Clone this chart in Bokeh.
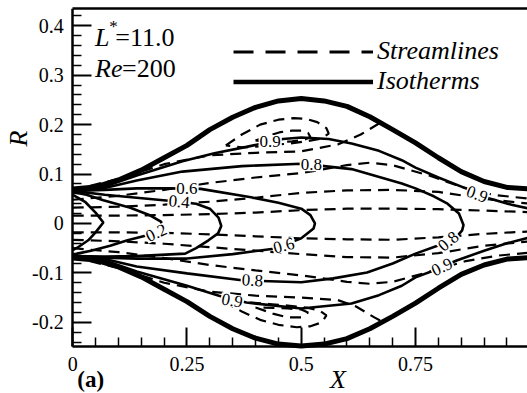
from bokeh.plotting import figure
from bokeh.models import FixedTicker, CustomJSTickFormatter, Label, Legend, LegendItem, Range1d, LinearAxis
from bokeh.core.properties import value
from bokeh.embed import file_html
from bokeh.resources import INLINE

NAN = float("nan")

# ---------------- data (X, R) ----------------
wall_x = [0, 0.05, 0.1, 0.15, 0.2, 0.25, 0.3, 0.35, 0.4, 0.45, 0.5,
          0.55, 0.6, 0.65, 0.7, 0.75, 0.8, 0.85, 0.9, 0.95, 1.0]
wall_top_r = [0.07, 0.074, 0.088, 0.108, 0.133, 0.158, 0.19, 0.215, 0.235, 0.248, 0.253,
              0.248, 0.237, 0.216, 0.19, 0.163, 0.133, 0.105, 0.085, 0.073, 0.07]
wall_bot_r = [-0.07, -0.074, -0.088, -0.108, -0.133, -0.158, -0.188, -0.213, -0.232, -0.244, -0.248,
              -0.244, -0.233, -0.213, -0.188, -0.161, -0.131, -0.103, -0.084, -0.072, -0.069]

# isotherms
iso09_top_x = [0.0, 0.07, 0.14, 0.24, 0.31, 0.38, 0.46, 0.5, 0.56, 0.61, 0.67, 0.72, 0.75, 0.8, 0.86, 0.91, 0.96, 1.0]
iso09_top_r = [0.066, 0.075, 0.097, 0.126, 0.142, 0.155, 0.171, 0.174, 0.171, 0.162, 0.147, 0.128, 0.113, 0.093, 0.071, 0.051, 0.038, 0.03]
iso09_bot_x = [0.0, 0.07, 0.14, 0.25, 0.32, 0.38, 0.5, 0.61, 0.67, 0.72, 0.75, 0.79, 0.84, 0.9, 0.95, 1.0]
iso09_bot_r = [-0.066, -0.075, -0.097, -0.126, -0.146, -0.16, -0.172, -0.162, -0.145, -0.126, -0.109, -0.095, -0.075, -0.055, -0.04, -0.028]
iso08_x = [0.0, 0.07, 0.14, 0.24, 0.37, 0.5, 0.55, 0.61, 0.72, 0.75, 0.79, 0.82, 0.845, 0.855, 0.852, 0.837,
           0.804, 0.75, 0.7, 0.644, 0.57, 0.5, 0.37, 0.25, 0.14, 0.07, 0.0]
iso08_r = [0.066, 0.072, 0.087, 0.105, 0.116, 0.121, 0.116, 0.11, 0.081, 0.071, 0.055, 0.04, 0.02, -0.003, -0.014, -0.03,
           -0.043, -0.061, -0.081, -0.099, -0.111, -0.119, -0.115, -0.101, -0.087, -0.072, -0.066]
iso06_x = [0.0, 0.07, 0.14, 0.21, 0.28, 0.39, 0.45, 0.5, 0.52, 0.53, 0.527, 0.5, 0.46, 0.44, 0.35, 0.25, 0.14, 0.07, 0.0]
iso06_r = [0.066, 0.068, 0.071, 0.071, 0.07, 0.053, 0.042, 0.03, 0.017, 0.0, -0.01, -0.03, -0.044, -0.051, -0.062, -0.071, -0.071, -0.069, -0.066]
iso04_x = [0.0, 0.07, 0.14, 0.21, 0.27, 0.3, 0.319, 0.325, 0.318, 0.297, 0.27, 0.246, 0.14, 0.07, 0.0]
iso04_r = [0.066, 0.058, 0.052, 0.046, 0.04, 0.03, 0.012, -0.005, -0.02, -0.034, -0.05, -0.061, -0.066, -0.067, -0.066]
iso02_x = [0.0, 0.03, 0.067, 0.126, 0.17, 0.193, 0.197, 0.185, 0.163, 0.12, 0.082, 0.04, 0.01, 0.0]
iso02_r = [0.064, 0.058, 0.047, 0.032, 0.016, 0.004, -0.006, -0.02, -0.024, -0.034, -0.045, -0.055, -0.061, -0.064]
iso01_x = [0.0, 0.01, 0.028, 0.05, 0.067, 0.05, 0.034, 0.01, 0.0]
iso01_r = [0.058, 0.053, 0.043, 0.022, 0.002, -0.018, -0.034, -0.049, -0.054]

# streamlines
su1_x = [0, 0.1, 0.2, 0.3, 0.4, 0.5, 0.6, 0.7, 0.8, 0.9, 1.0]
su1_r = [0.016, 0.016, 0.017, 0.019, 0.022, 0.027, 0.03, 0.03, 0.029, 0.026, 0.023]
su2_x = [0, 0.1, 0.2, 0.3, 0.4, 0.5, 0.6, 0.7, 0.8, 0.9, 1.0]
su2_r = [0.032, 0.034, 0.038, 0.044, 0.052, 0.062, 0.067, 0.068, 0.064, 0.05, 0.04]
su3_x = [0, 0.1, 0.2, 0.3, 0.4, 0.5, 0.6, 0.65, 0.7, 0.78, 0.85, 0.92, 1.0]
su3_r = [0.048, 0.056, 0.068, 0.082, 0.093, 0.102, 0.118, 0.123, 0.118, 0.097, 0.074, 0.058, 0.05]
su4_x = [0, 0.1, 0.2, 0.3, 0.4, 0.5, 0.58, 0.63, 0.675]
su4_r = [0.068, 0.09, 0.12, 0.138, 0.143, 0.146, 0.16, 0.18, 0.205]
vu1_x = [0.335, 0.37, 0.41, 0.45, 0.483, 0.51, 0.535, 0.555, 0.56, 0.545, 0.51, 0.476, 0.44, 0.41, 0.37, 0.335]
vu1_r = [0.158, 0.18, 0.2, 0.21, 0.213, 0.212, 0.205, 0.193, 0.182, 0.172, 0.166, 0.162, 0.159, 0.156, 0.154, 0.158]
vu2_x = [0.4, 0.43, 0.455, 0.48, 0.5, 0.515, 0.52, 0.505, 0.48, 0.45, 0.42, 0.4]
vu2_r = [0.168, 0.178, 0.185, 0.188, 0.188, 0.183, 0.175, 0.169, 0.166, 0.165, 0.165, 0.168]
sl1_x = [0, 0.1, 0.2, 0.3, 0.4, 0.5, 0.6, 0.7, 0.8, 0.9, 1.0]
sl1_r = [-0.018, -0.018, -0.019, -0.022, -0.026, -0.03, -0.032, -0.033, -0.028, -0.021, -0.016]
sl2_x = [0, 0.1, 0.2, 0.3, 0.4, 0.5, 0.6, 0.7, 0.8, 0.9, 1.0]
sl2_r = [-0.033, -0.036, -0.041, -0.048, -0.055, -0.062, -0.068, -0.069, -0.06, -0.045, -0.036]
sl3_x = [0, 0.1, 0.2, 0.3, 0.4, 0.5, 0.6, 0.65, 0.7, 0.78, 0.86, 0.93, 1.0]
sl3_r = [-0.05, -0.058, -0.07, -0.084, -0.095, -0.105, -0.118, -0.122, -0.118, -0.098, -0.076, -0.065, -0.059]
sl4_x = [0, 0.1, 0.2, 0.3, 0.4, 0.5, 0.58, 0.62, 0.66, 0.68]
sl4_r = [-0.068, -0.09, -0.12, -0.138, -0.146, -0.15, -0.155, -0.168, -0.19, -0.2]
vl1_x = [0.33, 0.37, 0.41, 0.45, 0.49, 0.52, 0.545, 0.555, 0.54, 0.51, 0.47, 0.43, 0.39, 0.35, 0.33]
vl1_r = [-0.158, -0.178, -0.195, -0.205, -0.21, -0.208, -0.2, -0.186, -0.176, -0.17, -0.166, -0.163, -0.16, -0.157, -0.158]
vl2_x = [0.4, 0.44, 0.47, 0.5, 0.515, 0.5, 0.47, 0.44, 0.4]
vl2_r = [-0.17, -0.183, -0.19, -0.19, -0.18, -0.174, -0.172, -0.171, -0.17]

# contour labels
lab_text = ["0.9", "0.8", "0.6", "0.4", "0.2", "0.6", "0.8", "0.9", "0.8", "0.9", "0.9"]
lab_x = [0.432, 0.522, 0.25, 0.233, 0.183, 0.462, 0.393, 0.349, 0.822, 0.808, 0.885]
lab_r = [0.166, 0.119, 0.071, 0.044, -0.019, -0.045, -0.115, -0.156, -0.036, -0.088, 0.059]
lab_ang = [0, 0, 0, -5, 25, 15, -3, -10, 40, 25, -20]

x_ticks = [0, 0.25, 0.5, 0.75]
x_minor = [0.05, 0.1, 0.15, 0.2, 0.3, 0.35, 0.4, 0.45, 0.55, 0.6, 0.65, 0.7, 0.8, 0.85, 0.9, 0.95]
y_ticks = [-0.2, -0.1, 0, 0.1, 0.2, 0.3, 0.4]
y_minor = [-0.24, -0.22, -0.18, -0.16, -0.14, -0.12, -0.08, -0.06, -0.04, -0.02, 0.02, 0.04, 0.06, 0.08,
           0.12, 0.14, 0.16, 0.18, 0.22, 0.24, 0.26, 0.28, 0.32, 0.34, 0.36, 0.38, 0.42]

legend_labels = ["Streamlines", "Isotherms"]

# plot box limits; the frame also covers the margins so that all texts are drawn inside it
X_MIN, X_MAX = 0.0, 0.995
R_MIN, R_MAX = -0.249, 0.435
X_CANVAS_MIN = -0.158
R_CANVAS_MIN = -0.344

SERIF = "Liberation Serif"
NBSP = "\u00a0"
p = figure(width=527, height=393, output_backend="svg", toolbar_location=None,
           x_range=Range1d(X_CANVAS_MIN, X_MAX), y_range=Range1d(R_CANVAS_MIN, R_MAX),
           min_border_left=0, min_border_right=0, min_border_top=8, min_border_bottom=0)
p.grid.visible = False
p.outline_line_color = None
p.background_fill_color = "white"
p.border_fill_color = "white"

fmt = CustomJSTickFormatter(code="if (Math.abs(tick) < 1e-9) return '0'; return (Math.round(tick*100)/100).toString();")
for ax, t, m in ((p.xaxis[0], x_ticks, x_minor), (p.yaxis[0], y_ticks, y_minor)):
    ax.ticker = FixedTicker(ticks=t, minor_ticks=m)
    ax.formatter = fmt
    ax.axis_line_width = 2.5
    ax.major_tick_in = 19
    ax.major_tick_out = 0
    ax.minor_tick_in = 9
    ax.minor_tick_out = 0
    ax.major_tick_line_width = 2
    ax.minor_tick_line_width = 1.5
    ax.major_label_text_font = SERIF
    ax.major_label_text_font_size = "20px"
    ax.major_label_text_color = "black"
p.xaxis[0].fixed_location = R_MIN
p.xaxis[0].bounds = (X_MIN, X_MAX)
p.xaxis[0].major_label_standoff = 10
p.yaxis[0].fixed_location = X_MIN
p.yaxis[0].bounds = (R_MIN, R_MAX)
p.yaxis[0].major_label_standoff = 9
p.yaxis[0].axis_label = NBSP * 12 + "R"
p.yaxis[0].axis_label_text_font = SERIF
p.yaxis[0].axis_label_text_font_style = "italic"
p.yaxis[0].axis_label_text_font_size = "26px"
p.yaxis[0].axis_label_text_color = "black"
p.yaxis[0].axis_label_standoff = -4

# top edge of the box
top_axis = LinearAxis(ticker=FixedTicker(ticks=[]), bounds=(X_MIN, X_MAX), axis_line_width=2.5,
                      major_tick_in=0, major_tick_out=0, minor_tick_in=0, minor_tick_out=0,
                      major_label_standoff=0, major_label_text_font_size="0px")
p.add_layout(top_axis, "above")

DASH = "11 7"
for xs, rs in ((su1_x, su1_r), (su2_x, su2_r), (su3_x, su3_r), (su4_x, su4_r), (vu1_x, vu1_r), (vu2_x, vu2_r),
               (sl1_x, sl1_r), (sl2_x, sl2_r), (sl3_x, sl3_r), (sl4_x, sl4_r), (vl1_x, vl1_r), (vl2_x, vl2_r)):
    p.line(xs, rs, line_color="black", line_width=2.2, line_dash=DASH)

for xs, rs in ((iso09_top_x, iso09_top_r), (iso09_bot_x, iso09_bot_r), (iso08_x, iso08_r), (iso06_x, iso06_r),
               (iso04_x, iso04_r), (iso02_x, iso02_r), (iso01_x, iso01_r)):
    p.line(xs, rs, line_color="black", line_width=2.6)

p.line(wall_x, wall_top_r, line_color="black", line_width=5)
p.line(wall_x, wall_bot_r, line_color="black", line_width=5)

p.text(x=lab_x, y=lab_r, text=lab_text, angle=lab_ang, angle_units="deg",
       text_font=value(SERIF), text_font_size="17px", text_align="center", text_baseline="middle",
       text_color="black", background_fill_color="white", padding=1)

# legend (no box); dummy renderers carry the legend line styles only
r_dash = p.line(x=[NAN, NAN], y=[NAN, NAN], line_color="black", line_width=3, line_dash="20 12")
r_solid = p.line(x=[NAN, NAN], y=[NAN, NAN], line_color="black", line_width=4.5)
leg = Legend(items=[LegendItem(label=legend_labels[0], renderers=[r_dash]),
                    LegendItem(label=legend_labels[1], renderers=[r_solid])],
             location=(233, 297), glyph_width=140, glyph_height=29, spacing=0, padding=0, margin=0,
             label_standoff=4, label_text_font=SERIF, label_text_font_style="italic",
             label_text_font_size="26px", label_text_color="black",
             background_fill_alpha=0, border_line_alpha=0)
p.add_layout(leg)

def lab(x, y, text, size, style="normal"):
    p.add_layout(Label(x=x, y=y, text=text, text_font=SERIF, text_font_size=size,
                       text_font_style=style, text_align="left", text_baseline="alphabetic",
                       text_color="black"))

lab(0.049, 0.376, "L", "26px", "italic")
lab(0.080, 0.399, "*", "17px")
lab(0.093, 0.376, "=11.0", "26px")
lab(0.049, 0.313, "Re", "26px", "italic")
lab(0.108, 0.313, "=200", "26px")
lab(0.010, -0.315, "(a)", "23px", "bold")
lab(0.563, -0.315, "X", "26px", "italic")

open("out.html", "w").write(file_html(p, INLINE))
